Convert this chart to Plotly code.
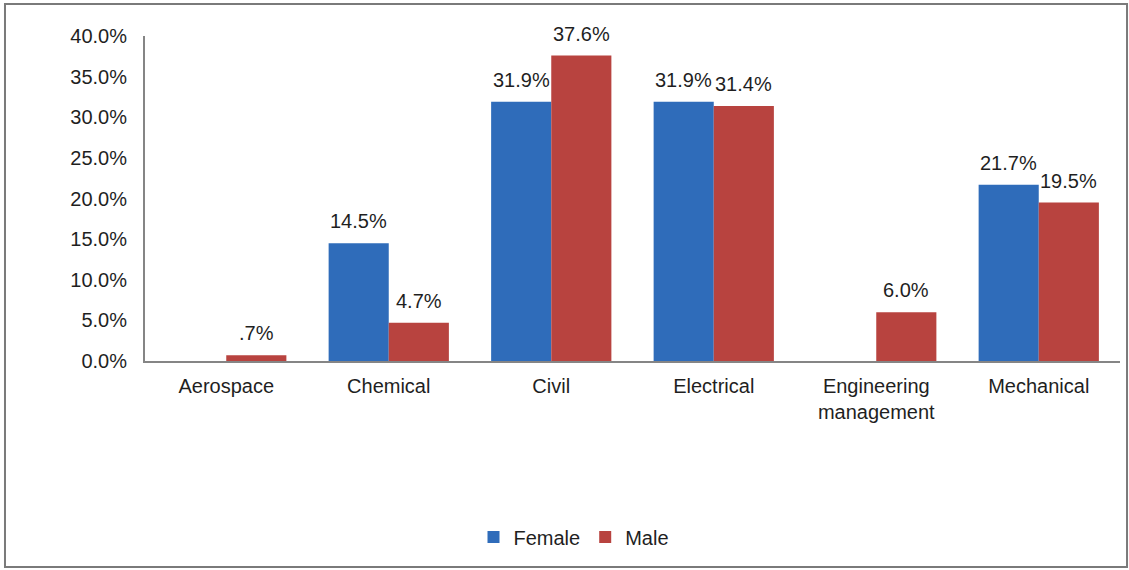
import plotly.graph_objects as go

categories = ["Aerospace", "Chemical", "Civil", "Electrical",
              "Engineering<br>management", "Mechanical"]
female = [0.0, 14.5, 31.9, 31.9, 0.0, 21.7]
male = [0.7, 4.7, 37.6, 31.4, 6.0, 19.5]
y_ticks = [0, 5, 10, 15, 20, 25, 30, 35, 40]


def pct_label(v):
    if v == 0:
        return ""
    s = f"{v:.1f}%"
    return s[1:] if s.startswith("0.") else s


FONT = "Liberation Sans, Arial, sans-serif"
TXT = "#1f1f1f"
FS = 20

fig = go.Figure()
fig.add_trace(go.Bar(name="Female", x=categories, y=female,
                     marker=dict(color="#2f6cba", line=dict(width=0))))
fig.add_trace(go.Bar(name="Male", x=categories, y=male,
                     marker=dict(color="#b8433f", line=dict(width=0))))

# value labels above each bar (half a bar width either side of the category)
annotations = []
for series, dx in ((female, -30), (male, 30)):
    for cat, v in zip(categories, series):
        label = pct_label(v)
        if not label:
            continue
        annotations.append(dict(
            x=cat, y=v, xref="x", yref="y", text=label, showarrow=False,
            xanchor="center", yanchor="bottom", xshift=dx, yshift=9,
            font=dict(family=FONT, size=FS, color=TXT)))

fig.update_layout(
    width=1129, height=570,
    margin=dict(l=145, r=9, t=36, b=209),
    paper_bgcolor="white", plot_bgcolor="white",
    barmode="group", bargap=0.26, bargroupgap=0,
    font=dict(family=FONT, size=FS, color=TXT),
    showlegend=True,
    legend=dict(orientation="h", x=0.44, xanchor="center",
                y=-0.5415, yanchor="middle",
                font=dict(family=FONT, size=FS, color=TXT),
                itemwidth=30, tracegroupgap=0),
    xaxis=dict(showline=True, linecolor="#858585", linewidth=2,
               showgrid=False, ticks="", ticklabelstandoff=6,
               tickfont=dict(size=FS, color=TXT)),
    yaxis=dict(range=[0, 40], tickvals=y_ticks,
               ticktext=[f"{v:.1f}%" for v in y_ticks],
               showline=True, linecolor="#858585", linewidth=2,
               showgrid=False, zeroline=False, ticks="",
               ticklabelstandoff=12,
               tickfont=dict(size=FS, color=TXT)),
    annotations=annotations,
    shapes=[dict(type="rect", xref="paper", yref="paper",
                 x0=-0.1436, x1=1.0072, y0=-0.634, y1=1.0985,
                 line=dict(color="#7a7a7a", width=2), layer="below")],
)

fig.write_html("out.html")
